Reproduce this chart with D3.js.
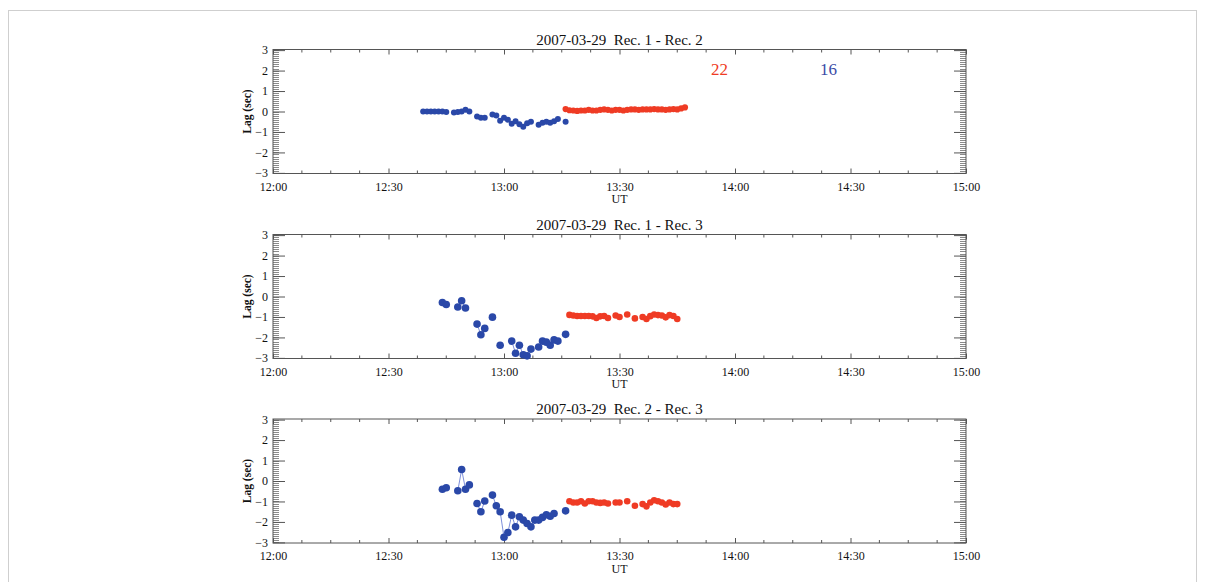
<!DOCTYPE html>
<html>
<head>
<meta charset="utf-8">
<script src="https://cdn.jsdelivr.net/npm/d3@7"></script>
<style>
  html, body { margin: 0; padding: 0; background: #fff; }
  svg { display: block; }
  text { font-family: "Liberation Serif", "DejaVu Serif", serif; }
</style>
</head>
<body>
<svg id="chart" width="1205" height="582"></svg>
<script>
// ---------------- DATA ----------------
// time in minutes after 12:00 UT, lag in seconds
const panelTitles = ["2007-03-29  Rec. 1 - Rec. 2", "2007-03-29  Rec. 1 - Rec. 3", "2007-03-29  Rec. 2 - Rec. 3"];
const timeTickMinutes = [0, 30, 60, 90, 120, 150, 180];
const timeTickLabels = ["12:00", "12:30", "13:00", "13:30", "14:00", "14:30", "15:00"];
const lagTicks = [-3, -2, -1, 0, 1, 2, 3];
const countLabels = ["22", "16"];

const p1BlueMin = [39,40,41,42,43,44,45, 47,48,49,50,51, 53,54,55, 57,58,59,60,61,62,63,64,65,66,67, 69,70,71,72,73,74, 76];
const p1BlueLag = [0.0,0.0,0.0,0.0,0.0,0.0,-0.03, -0.05,-0.03,0.0,0.08,0.0, -0.25,-0.3,-0.3, -0.15,-0.2,-0.45,-0.3,-0.4,-0.6,-0.48,-0.62,-0.75,-0.58,-0.5, -0.65,-0.55,-0.5,-0.55,-0.48,-0.37, -0.5];
const p1RedMin = [76,77,78,79,80,81,82,83,84,85,86,87,88,89,90,91,92,93,94,95,96,97,98,99,100,101,102,103,104,105,106,107];
const p1RedLag = [0.12,0.06,0.05,0.03,0.05,0.05,0.08,0.05,0.05,0.08,0.1,0.08,0.05,0.08,0.08,0.05,0.08,0.1,0.1,0.08,0.1,0.1,0.1,0.12,0.1,0.1,0.08,0.1,0.12,0.1,0.15,0.2];

const p2BlueMin = [44,45,48,49,50,53,54,55,57,59,62,63,64,65,66,67,69,70,71,72,73,74,76];
const p2BlueLag = [-0.29,-0.39,-0.51,-0.21,-0.56,-1.35,-1.87,-1.56,-1.01,-2.38,-2.18,-2.77,-2.38,-2.85,-2.9,-2.57,-2.47,-2.18,-2.23,-2.38,-2.12,-2.18,-1.85];
const p2RedMin = [77,78,79,80,81,82,83,84,85,86,87,89,90,92,94,96,97,98,99,100,101,102,103,104,105];
const p2RedLag = [-0.9,-0.93,-0.95,-0.95,-0.95,-0.95,-0.97,-1.05,-0.97,-0.95,-1.05,-0.93,-1.0,-0.88,-1.07,-1.0,-1.1,-0.96,-0.88,-0.91,-0.93,-1.02,-0.91,-0.95,-1.1];

const p3BlueMin = [44,45,48,49,50,51,53,54,55,57,58,59,60,61,62,63,64,65,66,67,68,69,70,71,72,73,76];
const p3BlueLag = [-0.4,-0.33,-0.48,0.56,-0.4,-0.19,-1.1,-1.5,-0.98,-0.69,-1.21,-1.5,-2.75,-2.52,-1.67,-2.24,-1.75,-1.91,-2.08,-2.24,-1.91,-1.91,-1.78,-1.65,-1.72,-1.59,-1.46];
const p3RedMin = [77,78,79,80,81,82,83,84,85,86,87,89,90,92,94,96,97,98,99,100,101,102,103,104,105];
const p3RedLag = [-0.99,-1.05,-1.05,-0.99,-1.1,-0.99,-0.99,-1.05,-1.07,-1.05,-1.1,-1.05,-1.05,-0.99,-1.21,-1.13,-1.24,-1.05,-0.94,-0.99,-1.05,-1.15,-1.05,-1.13,-1.13];

// ---------------- LAYOUT ----------------
const plotLeft = 273, plotRight = 966;
const panelTops = [49.5, 234.5, 419];
const panelH = 124;
const blueColor = "#2a48a8";
const redColor = "#ef3b24";
const lineColor = "#6f82d6";

const panels = [
  {title: panelTitles[0], bT: p1BlueMin, bV: p1BlueLag, rT: p1RedMin, rV: p1RedLag, rb: 3.0, rr: 3.1},
  {title: panelTitles[1], bT: p2BlueMin, bV: p2BlueLag, rT: p2RedMin, rV: p2RedLag, rb: 3.8, rr: 3.3},
  {title: panelTitles[2], bT: p3BlueMin, bV: p3BlueLag, rT: p3RedMin, rV: p3RedLag, rb: 3.8, rr: 3.3}
];

const svg = d3.select("#chart");

// outer light frame
svg.append("rect").attr("x", 8.5).attr("y", 10.5).attr("width", 1188).attr("height", 600)
  .attr("fill", "none").attr("stroke", "#cfcfcf").attr("stroke-width", 1);

const x = d3.scaleLinear().domain([0, 180]).range([plotLeft, plotRight]);

function withGaps(ts, vs) {
  const out = [];
  ts.forEach((t, i) => {
    if (i > 0 && t - ts[i - 1] > 1.5) out.push(null);
    out.push({t: t, v: vs[i]});
  });
  return out;
}

panels.forEach((p, pi) => {
  const top = panelTops[pi], bottom = top + panelH;
  const y = d3.scaleLinear().domain([-3.03, 3.03]).range([bottom, top]);
  const g = svg.append("g");

  // title
  g.append("text").attr("x", (plotLeft + plotRight) / 2).attr("y", top - 5)
    .attr("text-anchor", "middle").attr("font-size", 15).style("white-space", "pre")
    .attr("fill", "#111").text(p.title);

  // dense minor y ticks (both sides)
  const minorY = d3.range(-30, 31).map(k => k / 10);
  g.append("g").selectAll("line").data(minorY).join("line")
    .attr("x1", plotLeft).attr("x2", plotLeft + 6)
    .attr("y1", d => Math.round(y(d)) + 0.5).attr("y2", d => Math.round(y(d)) + 0.5)
    .attr("stroke", "#8a8a8a").attr("stroke-width", 1);
  g.append("g").selectAll("line").data(minorY).join("line")
    .attr("x1", plotRight - 6).attr("x2", plotRight)
    .attr("y1", d => Math.round(y(d)) + 0.5).attr("y2", d => Math.round(y(d)) + 0.5)
    .attr("stroke", "#8a8a8a").attr("stroke-width", 1);

  // left y axis with labels
  const yAxis = d3.axisLeft(y).tickValues(lagTicks).tickSize(-12).tickPadding(5).tickFormat(d3.format("d"));
  const ya = g.append("g").attr("transform", `translate(${plotLeft},0)`).call(yAxis);
  ya.select(".domain").remove();
  ya.selectAll("line").attr("stroke", "#555");
  ya.selectAll("text").attr("font-size", 12).attr("fill", "#111");

  // right y axis, ticks only
  const yAxisR = d3.axisRight(y).tickValues(lagTicks).tickSize(-12).tickFormat("");
  const yr = g.append("g").attr("transform", `translate(${plotRight},0)`).call(yAxisR);
  yr.select(".domain").remove();
  yr.selectAll("line").attr("stroke", "#555");

  // minor x ticks top & bottom
  const minorX = d3.range(0, 181, 7.5).filter(m => m % 30 !== 0);
  g.append("g").selectAll("line").data(minorX).join("line")
    .attr("x1", d => x(d)).attr("x2", d => x(d)).attr("y1", bottom).attr("y2", bottom - 3)
    .attr("stroke", "#555");
  g.append("g").selectAll("line").data(minorX).join("line")
    .attr("x1", d => x(d)).attr("x2", d => x(d)).attr("y1", top).attr("y2", top + 3)
    .attr("stroke", "#555");

  // bottom x axis
  const xAxis = d3.axisBottom(x).tickValues(timeTickMinutes).tickSize(-5).tickPadding(8.5)
    .tickFormat((d, i) => timeTickLabels[i]);
  const xa = g.append("g").attr("transform", `translate(0,${bottom})`).call(xAxis);
  xa.select(".domain").remove();
  xa.selectAll("line").attr("stroke", "#555");
  xa.selectAll("text").attr("font-size", 12).attr("fill", "#111");

  // top x axis ticks
  const xAxisT = d3.axisTop(x).tickValues(timeTickMinutes).tickSize(-5).tickFormat("");
  const xt = g.append("g").attr("transform", `translate(0,${top})`).call(xAxisT);
  xt.select(".domain").remove();
  xt.selectAll("line").attr("stroke", "#555");

  // frame
  g.append("rect").attr("x", plotLeft).attr("y", top).attr("width", plotRight - plotLeft).attr("height", panelH)
    .attr("fill", "none").attr("stroke", "#555").attr("stroke-width", 1);

  // axis titles
  g.append("text").attr("x", (plotLeft + plotRight) / 2).attr("y", bottom + 29.5)
    .attr("text-anchor", "middle").attr("font-size", 12).attr("fill", "#111").text("UT");
  g.append("text").attr("transform", `translate(250.5,${(top + bottom) / 2}) rotate(-90)`)
    .attr("text-anchor", "middle").attr("font-size", 11.5).attr("font-weight", "bold")
    .attr("fill", "#111").text("Lag (sec)");

  // series
  const line = d3.line().defined(d => d !== null).x(d => x(d.t)).y(d => y(d.v));
  const blue = withGaps(p.bT, p.bV);
  const red = withGaps(p.rT, p.rV);
  g.append("path").datum(blue).attr("d", line).attr("fill", "none")
    .attr("stroke", lineColor).attr("stroke-width", 0.9);
  g.append("path").datum(red).attr("d", line).attr("fill", "none")
    .attr("stroke", redColor).attr("stroke-width", 0.9);
  g.append("g").selectAll("circle").data(blue.filter(d => d)).join("circle")
    .attr("cx", d => x(d.t)).attr("cy", d => y(d.v)).attr("r", p.rb).attr("fill", blueColor);
  g.append("g").selectAll("circle").data(red.filter(d => d)).join("circle")
    .attr("cx", d => x(d.t)).attr("cy", d => y(d.v)).attr("r", p.rr).attr("fill", redColor);

  if (pi === 0) {
    g.append("text").attr("x", 719.5).attr("y", 75).attr("text-anchor", "middle")
      .attr("font-size", 17).attr("fill", redColor).text(countLabels[0]);
    g.append("text").attr("x", 828.5).attr("y", 75).attr("text-anchor", "middle")
      .attr("font-size", 17).attr("fill", "#3a4ba6").text(countLabels[1]);
  }
});
</script>
</body>
</html>
